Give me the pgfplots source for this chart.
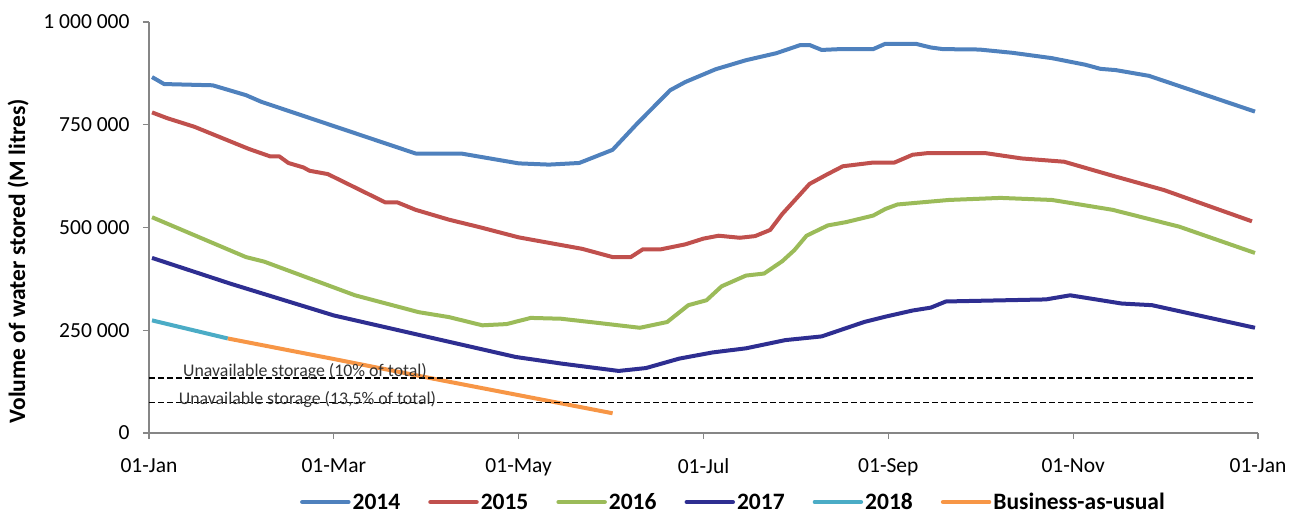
\documentclass[border=0pt]{standalone}
\usepackage{fontspec}
\setmainfont{Carlito}
\usepackage{pgfplots}
\usepackage{pgfplotstable}
\pgfplotsset{compat=1.18}
\definecolor{cA}{RGB}{79,129,189}
\definecolor{cB}{RGB}{192,80,77}
\definecolor{cC}{RGB}{155,187,89}
\definecolor{cD}{RGB}{46,46,145}
\definecolor{cE}{RGB}{75,172,198}
\definecolor{cF}{RGB}{247,150,70}
\definecolor{axisgray}{RGB}{134,134,134}
\definecolor{txtgray}{RGB}{50,50,50}

\pgfplotstableread{
d v
1 866000
5 849000
21 846000
32 822000
37 806000
88 680000
103 680000
122 656000
132 653000
142 657000
153 689000
161 752000
172 834000
177 854000
187 885000
197 907000
207 924000
215 944000
218 944000
222 932000
228 934000
239 934000
243 947000
253 947000
258 938000
262 934000
274 933000
285 925000
298 912000
309 896000
314 886000
319 883000
330 869000
365 782000
}\tA

\pgfplotstableread{
d v
1 780000
6 766000
15 745000
33 691000
40 673000
43 673000
46 657000
51 646000
53 638000
59 630000
78 561000
82 561000
88 543000
99 519000
109 501000
122 476000
143 448000
153 428000
159 428000
163 447000
169 447000
177 459000
183 473000
188 480000
195 475000
200 479000
205 494000
209 533000
218 606000
224 630000
229 649000
239 658000
246 658000
252 677000
257 681000
276 681000
288 668000
302 660000
318 626000
335 591000
351 549000
364 515000
}\tB

\pgfplotstableread{
d v
1 525000
32 428000
38 417000
68 335000
89 294000
99 282000
110 262000
118 265000
126 280000
136 278000
148 268000
162 256000
171 270000
178 311000
184 323000
189 357000
197 383000
203 388000
209 418000
213 445000
217 480000
224 505000
230 513000
239 529000
243 545000
247 556000
264 567000
281 572000
298 567000
318 543000
340 502000
365 438000
}\tC

\pgfplotstableread{
d v
1 426000
27 363000
61 286000
96 227000
121 185000
136 169000
155 151000
164 158000
175 181000
186 196000
197 206000
210 226000
222 235000
236 270000
243 283000
252 298000
258 305000
263 320000
296 325000
304 335000
321 315000
331 311000
365 256000
}\tD

\pgfplotstableread{
d v
1 274000
26 230000
}\tE

\pgfplotstableread{
d v
26 230000
61 180000
96 129000
153 48000
}\tF

\begin{document}
\begin{tikzpicture}
\begin{axis}[
  scale only axis, width=1109pt, height=411pt,
  xmin=0, xmax=366, ymin=0, ymax=1000000,
  clip=false,
  axis x line*=bottom, axis y line*=left,
  axis line style={draw=axisgray, line width=1.3pt, -},
  xtick={0,61,122,183,244,305,366},
  xticklabels={01-Jan,01-Mar,01-May,01-Jul,01-Sep,01-Nov,01-Jan},
  ytick={0,250000,500000,750000,1000000},
  yticklabels={0,250~000,500~000,750~000,1~000~000},
  scaled y ticks=false,
  tick align=outside, major tick length=6pt,
  tick style={draw=axisgray, line width=1.3pt},
  ticklabel style={font=\fontsize{21.5}{25}\selectfont, text=black},
  xticklabel style={yshift=-16pt},
  yticklabel style={xshift=-10pt},
  ylabel={Volume of water stored (M litres)},
  ylabel style={font=\bfseries\fontsize{23.5}{27}\selectfont, at={(axis description cs:-0.118,0.418)}, anchor=center},
  legend columns=6,
  legend style={draw=none, fill=none, at={(axis description cs:0.527,-0.168)}, anchor=center,
    font=\bfseries\fontsize{23.5}{27}\selectfont, inner sep=0pt,
    /tikz/every even column/.append style={column sep=26pt}},
  legend cell align=left,
  legend image code/.code={\draw[#1, line width=4.5pt, line cap=round] (0pt,0pt) -- (46pt,0pt);},
  every axis plot/.append style={line width=4pt, line join=round},
]
\addplot[cA] table[x=d,y=v] {\tA};
\addlegendentry{2014}
\addplot[cB] table[x=d,y=v] {\tB};
\addlegendentry{2015}
\addplot[cC] table[x=d,y=v] {\tC};
\addlegendentry{2016}
\addplot[cD] table[x=d,y=v] {\tD};
\addlegendentry{2017}
\addplot[cE] table[x=d,y=v] {\tE};
\addlegendentry{2018}
\addplot[cF] table[x=d,y=v] {\tF};
\addlegendentry{Business-as-usual}
\addplot[black, line width=1.6pt, dash pattern=on 6pt off 3pt, forget plot] coordinates {(0,134000) (365,134000)};
\addplot[black, line width=1.6pt, dash pattern=on 6pt off 3pt, forget plot] coordinates {(0,74500) (365,74500)};
\node[anchor=base, inner sep=0pt, text=txtgray, font=\fontsize{17.8}{20}\selectfont] at (axis cs:51.5,136500) {Unavailable storage (10\% of total)};
\node[anchor=base, inner sep=0pt, text=txtgray, font=\fontsize{17.8}{20}\selectfont] at (axis cs:52.3,70000) {Unavailable storage (13,5\% of total)};
\end{axis}
\pgfresetboundingbox
\path (-149pt,-80pt) rectangle (1152pt,433pt);
\end{tikzpicture}
\end{document}
